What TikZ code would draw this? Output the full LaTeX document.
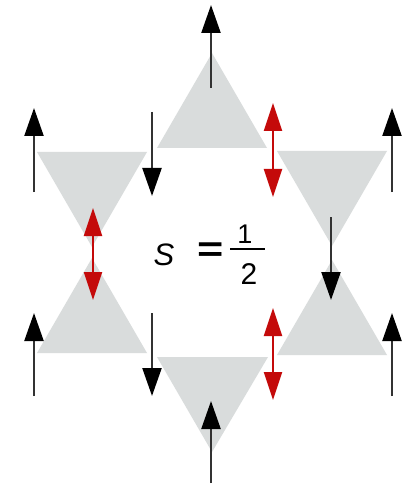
\documentclass[tikz,border=0pt]{standalone}
\usepackage{fontspec}
\setmainfont{Liberation Sans}
\usetikzlibrary{arrows.meta}
\definecolor{trigray}{RGB}{217,220,220}
\definecolor{spinred}{RGB}{196,10,10}
\definecolor{shaft}{RGB}{50,50,50}
\tikzset{
  tri/.style={fill=trigray, draw=none},
  spin/.style={draw=shaft, line width=2.3pt, -{Triangle[length=28pt,width=19pt,color=black]}},
  rspin/.style={draw=spinred, line width=2.3pt, {Triangle[length=28pt,width=18pt,color=spinred]}-{Triangle[length=28pt,width=18pt,color=spinred]}},
  lbl/.style={inner sep=0pt, text=black}
}
\begin{document}
\begin{tikzpicture}[x=1pt,y=-1pt]
\useasboundingbox (0,0) rectangle (405,486);
\fill[white] (0,0) rectangle (405,486);
% triangles
\path[tri] (157,148) -- (267,148) -- (212,53) -- cycle;
\path[tri] (37,152) -- (147,152) -- (92,247) -- cycle;
\path[tri] (37,353) -- (147,353) -- (92,258) -- cycle;
\path[tri] (277,151) -- (387,151) -- (332,246) -- cycle;
\path[tri] (277,355) -- (387,355) -- (332,260) -- cycle;
\path[tri] (157,357) -- (268,357) -- (212,452) -- cycle;
% spin coordinates
\coordinate (a1s) at (211,88);  \coordinate (a1e) at (211,5);
\coordinate (a2s) at (34,192);  \coordinate (a2e) at (34,108);
\coordinate (a3s) at (152,112); \coordinate (a3e) at (152,196);
\coordinate (r1s) at (273,103); \coordinate (r1e) at (273,197);
\coordinate (a4s) at (392,192); \coordinate (a4e) at (392,108);
\coordinate (r2s) at (93,208);  \coordinate (r2e) at (93,300);
\coordinate (a5s) at (331,217); \coordinate (a5e) at (331,300);
\coordinate (a6s) at (34,396);  \coordinate (a6e) at (34,313);
\coordinate (a7s) at (152,313); \coordinate (a7e) at (152,396);
\coordinate (r3s) at (273,308); \coordinate (r3e) at (273,400);
\coordinate (a8s) at (392,396); \coordinate (a8e) at (392,313);
\coordinate (a9s) at (211,483); \coordinate (a9e) at (211,401);
% spins
\draw[spin] (a1s) -- (a1e);
\draw[spin] (a2s) -- (a2e);
\draw[spin] (a3s) -- (a3e);
\draw[rspin] (r1s) -- (r1e);
\draw[spin] (a4s) -- (a4e);
\draw[rspin] (r2s) -- (r2e);
\draw[spin] (a5s) -- (a5e);
\draw[spin] (a6s) -- (a6e);
\draw[spin] (a7s) -- (a7e);
\draw[rspin] (r3s) -- (r3e);
\draw[spin] (a8s) -- (a8e);
\draw[spin] (a9s) -- (a9e);
% label S = 1/2
\node[lbl, font=\fontsize{31}{33}\selectfont\itshape] (S) at (164,255) {S};
\node[lbl, font=\fontsize{36}{38}\selectfont\bfseries, xscale=1.25] (eq) at (211,252) {=};
\coordinate (barl) at (230,248.5);
\coordinate (barr) at (265,248.5);
\draw[line width=2pt] (barl) -- (barr);
\node[lbl, font=\fontsize{27}{29}\selectfont] (num) at (245,234) {1};
\node[lbl, font=\fontsize{30}{32}\selectfont] (den) at (249,274) {2};
\end{tikzpicture}
\end{document}
